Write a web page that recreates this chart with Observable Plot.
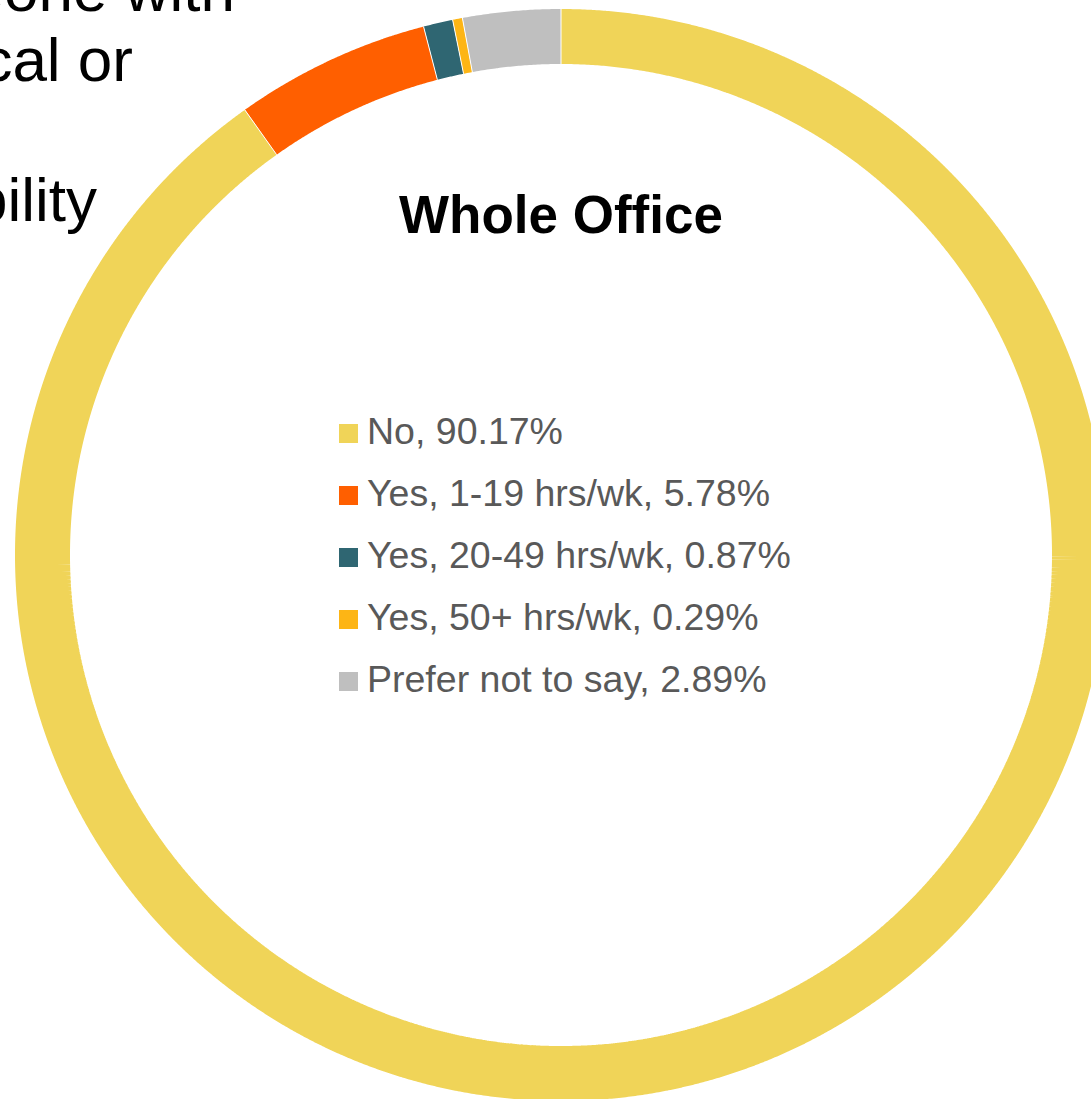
<!DOCTYPE html>
<html>
<head>
<meta charset="utf-8">
<script src="https://cdn.jsdelivr.net/npm/d3@7"></script>
<script src="https://cdn.jsdelivr.net/npm/@observablehq/plot@0.6"></script>
<style>
  html, body { margin: 0; padding: 0; background: #fff; }
  #wrap { position: relative; width: 1091px; height: 1099px; overflow: hidden; font-family: "Liberation Sans", Arial, sans-serif; }
  #chart { position: absolute; left: 0; top: 0; }
  .frag { position: absolute; font-size: 62px; line-height: 62px; color: #000; white-space: nowrap; text-align: right; }
  #title { position: absolute; top: 188px; left: 561px; transform: translateX(-50%); font-size: 53px; line-height: 53px; font-weight: bold; color: #000; white-space: nowrap; }
  #legend { position: absolute; left: 339px; top: 413px; }
  .row { position: relative; height: 62px; font-size: 37.5px; line-height: 37.5px; color: #595959; white-space: nowrap; }
  .sw { position: absolute; left: 0; top: 11px; width: 19px; height: 19px; }
  .lab { position: absolute; left: 28px; top: 0; }
</style>
</head>
<body>
<div id="wrap">
  <div id="chart"></div>
  <div class="frag" style="right:856px; top:-41px;">someone with</div>
  <div class="frag" style="right:958px; top:29px;">physical or</div>
  <div class="frag" style="right:994px; top:169px;">disability</div>
  <div id="title">Whole Office</div>
  <div id="legend"></div>
</div>
<script>
const categories = ["No", "Yes, 1-19 hrs/wk", "Yes, 20-49 hrs/wk", "Yes, 50+ hrs/wk", "Prefer not to say"];
const values = [90.17, 5.78, 0.87, 0.29, 2.89];
const colors = ["#F0D458", "#FF5F00", "#2F6672", "#FDB515", "#BFBFBF"];

const total = d3.sum(values);
const points = [];
const bounds = [];
let cum = 0;
categories.forEach((cat, i) => {
  const a0 = cum / total * 2 * Math.PI;
  cum += values[i];
  const a1 = cum / total * 2 * Math.PI;
  const n = Math.max(2, Math.ceil((a1 - a0) / (Math.PI / 720)));
  for (let k = 0; k <= n; k++) {
    const a = a0 + (a1 - a0) * k / n;
    points.push({cat, x: Math.sin(a), y: Math.cos(a)});
  }
  bounds.push({a: a0});
});

const rIn = 491 / 518.5, rOut = 546 / 518.5;

const plot = Plot.plot({
  width: 1091,
  height: 1099,
  margin: 0,
  x: {domain: [-1, 1], range: [42, 1079], axis: null},
  y: {domain: [-1, 1], range: [1073, 36], axis: null},
  color: {domain: categories, range: colors},
  marks: [
    Plot.line(points, {x: "x", y: "y", z: "cat", stroke: "cat", strokeWidth: 55, strokeLinecap: "butt", strokeLinejoin: "miter", curve: "linear"}),
    Plot.link(bounds, {
      x1: d => rIn * Math.sin(d.a), y1: d => rIn * Math.cos(d.a),
      x2: d => rOut * Math.sin(d.a), y2: d => rOut * Math.cos(d.a),
      stroke: "#fff", strokeWidth: 1
    })
  ]
});
document.getElementById("chart").appendChild(plot);

const legend = document.getElementById("legend");
categories.forEach((cat, i) => {
  const row = document.createElement("div");
  row.className = "row";
  const sw = document.createElement("div");
  sw.className = "sw";
  sw.style.background = colors[i];
  const lab = document.createElement("div");
  lab.className = "lab";
  lab.textContent = `${cat}, ${values[i].toFixed(2)}%`;
  row.appendChild(sw);
  row.appendChild(lab);
  legend.appendChild(row);
});
</script>
</body>
</html>
